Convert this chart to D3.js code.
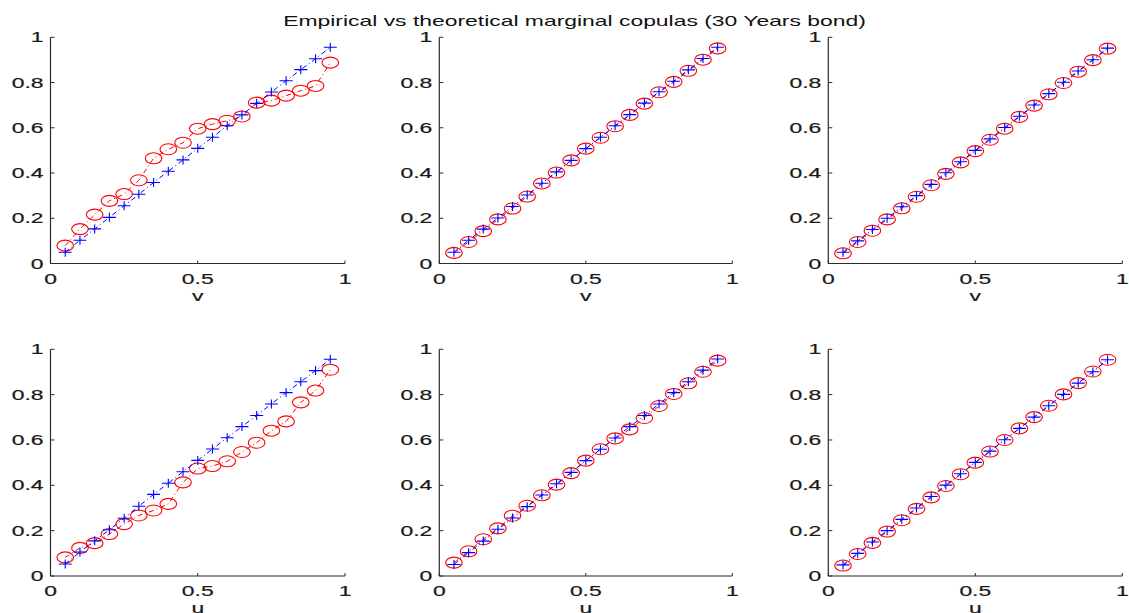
<!DOCTYPE html>
<html>
<head>
<meta charset="utf-8">
<script src="https://cdn.jsdelivr.net/npm/d3@7"></script>
<style>
  html, body { margin: 0; padding: 0; background: #fff; }
  svg { display: block; }
  text { font-family: "Liberation Sans", Arial, sans-serif; font-size: 14px; fill: #1a1a1a; stroke: #1a1a1a; stroke-width: 0.2px; }
  text.title { stroke: none; fill: #111; }
</style>
</head>
<body>
<svg id="chart" width="1129" height="613"></svg>
<script>
const titleText = "Empirical vs theoretical marginal copulas (30 Years bond)";
const grid = [0.05,0.10,0.15,0.20,0.25,0.30,0.35,0.40,0.45,0.50,0.55,0.60,0.65,0.70,0.75,0.80,0.85,0.90,0.95];
const xTicks = [0, 0.5, 1];
const yTicks = [0, 0.2, 0.4, 0.6, 0.8, 1];
const xTickLabels = ["0", "0.5", "1"];
const yTickLabels = ["0", "0.2", "0.4", "0.6", "0.8", "1"];
const axisLabels = ["v", "v", "v", "u", "u", "u"];

const topLeftRed    = [0.079,0.152,0.216,0.277,0.307,0.368,0.465,0.505,0.534,0.596,0.616,0.631,0.650,0.711,0.720,0.742,0.764,0.785,0.888];
const topLeftBlue   = [0.050,0.103,0.153,0.204,0.255,0.306,0.358,0.408,0.458,0.509,0.558,0.609,0.657,0.708,0.758,0.808,0.857,0.905,0.956];
const topMidRed     = [0.047,0.095,0.143,0.195,0.243,0.296,0.354,0.402,0.456,0.508,0.556,0.607,0.657,0.707,0.757,0.803,0.852,0.901,0.951];
const topMidBlue    = [0.050,0.103,0.152,0.201,0.252,0.303,0.355,0.405,0.456,0.508,0.558,0.609,0.658,0.709,0.759,0.806,0.856,0.906,0.956];
const topRightRed   = [0.045,0.095,0.145,0.195,0.244,0.295,0.346,0.396,0.447,0.497,0.547,0.596,0.648,0.698,0.748,0.798,0.848,0.899,0.950];
const topRightBlue  = [0.050,0.100,0.150,0.200,0.251,0.300,0.350,0.401,0.450,0.500,0.551,0.601,0.651,0.701,0.751,0.801,0.851,0.901,0.952];
const botLeftRed    = [0.082,0.124,0.145,0.185,0.229,0.267,0.289,0.318,0.413,0.474,0.485,0.506,0.547,0.588,0.641,0.682,0.766,0.818,0.910];
const botLeftBlue   = [0.053,0.106,0.155,0.204,0.255,0.308,0.360,0.409,0.460,0.510,0.560,0.610,0.659,0.708,0.759,0.809,0.857,0.906,0.956];
const botMidRed     = [0.059,0.109,0.162,0.210,0.266,0.310,0.356,0.403,0.454,0.509,0.559,0.607,0.647,0.697,0.750,0.803,0.850,0.901,0.950];
const botMidBlue    = [0.051,0.103,0.154,0.206,0.256,0.306,0.357,0.407,0.457,0.509,0.559,0.609,0.659,0.708,0.759,0.809,0.857,0.908,0.957];
const botRightRed   = [0.046,0.097,0.146,0.196,0.246,0.296,0.347,0.397,0.449,0.500,0.549,0.600,0.651,0.701,0.751,0.801,0.851,0.902,0.954];
const botRightBlue  = [0.049,0.100,0.150,0.200,0.250,0.300,0.351,0.401,0.451,0.501,0.551,0.601,0.651,0.701,0.751,0.801,0.851,0.901,0.954];

const panelsData = [
  {red: topLeftRed,  blue: topLeftBlue},
  {red: topMidRed,   blue: topMidBlue},
  {red: topRightRed, blue: topRightBlue},
  {red: botLeftRed,  blue: botLeftBlue},
  {red: botMidRed,   blue: botMidBlue},
  {red: botRightRed, blue: botRightBlue}
];

const svg = d3.select("#chart");
const colX = [[50.5, 345], [439.3, 732.3], [828.3, 1122.3]];
const rowY = [[263.5, 37.3], [576, 349.3]];
const axisColor = "#2b2b2b";

// measure horizontal stretch from title
const tTitle = svg.append("text").attr("class", "title").attr("text-anchor", "middle").text(titleText);
const titleLen = tTitle.node().getComputedTextLength();
const sx = 583 / titleLen;
tTitle.attr("transform", `translate(574.5,25.5) scale(${sx},1)`);

function stretchedText(g, x, y, str, anchor) {
  g.append("text")
    .attr("text-anchor", anchor)
    .attr("transform", `translate(${x},${y}) scale(${sx},1)`)
    .text(str);
}

panelsData.forEach((pd, i) => {
  const r = Math.floor(i / 3), c = i % 3;
  const x = d3.scaleLinear().domain([0, 1]).range(colX[c]);
  const y = d3.scaleLinear().domain([0, 1]).range(rowY[r]);
  const g = svg.append("g");

  // axes lines
  g.append("line").attr("x1", x(0)).attr("x2", x(1)).attr("y1", y(0)).attr("y2", y(0))
    .attr("stroke", axisColor).attr("stroke-width", 1.2);
  g.append("line").attr("x1", x(0)).attr("x2", x(0)).attr("y1", y(0)).attr("y2", y(1))
    .attr("stroke", axisColor).attr("stroke-width", 1.2);
  // ticks (inward)
  xTicks.forEach((t, k) => {
    g.append("line").attr("x1", x(t)).attr("x2", x(t)).attr("y1", y(0)).attr("y2", y(0) - 3)
      .attr("stroke", axisColor).attr("stroke-width", 1);
    stretchedText(g, x(t), y(0) + 20, xTickLabels[k], "middle");
  });
  yTicks.forEach((t, k) => {
    g.append("line").attr("x1", x(0)).attr("x2", x(0) + 4).attr("y1", y(t)).attr("y2", y(t))
      .attr("stroke", axisColor).attr("stroke-width", 1);
    stretchedText(g, x(0) - 7, y(t) + 5, yTickLabels[k], "end");
  });
  stretchedText(g, x(0.5), y(0) + 37, axisLabels[i], "middle");

  const line = d3.line().x((d, k) => x(grid[k])).y(d => y(d));
  // red series
  g.append("path").datum(pd.red).attr("d", line).attr("fill", "none")
    .attr("stroke", "#ff0000").attr("stroke-width", 1).attr("stroke-dasharray", "5,3,1,3");
  g.selectAll(".circ").data(pd.red).enter().append("ellipse")
    .attr("cx", (d, k) => x(grid[k])).attr("cy", d => y(d))
    .attr("rx", 8.3).attr("ry", 5.5)
    .attr("fill", "none").attr("stroke", "#ff0000").attr("stroke-width", 1.1);
  // blue series
  g.append("path").datum(pd.blue).attr("d", line).attr("fill", "none")
    .attr("stroke", "#0000ff").attr("stroke-width", 1).attr("stroke-dasharray", "5,3,1,3");
  g.selectAll(".plus").data(pd.blue).enter().append("path")
    .attr("d", (d, k) => {
      const px = x(grid[k]), py = y(d);
      return `M${px - 6.5},${py}H${px + 6.5}M${px},${py - 4.5}V${py + 4.5}`;
    })
    .attr("fill", "none").attr("stroke", "#0000ff").attr("stroke-width", 1.1);
});
</script>
</body>
</html>
